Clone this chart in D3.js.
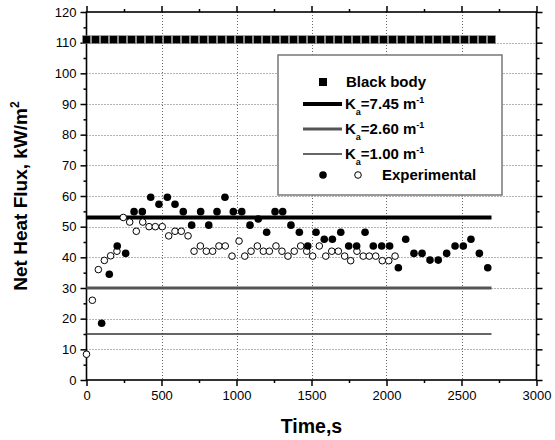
<!DOCTYPE html>
<html lang="en">

<head>
    <meta charset="UTF-8">
    <title>Net Heat Flux</title>
    <script src="https://unpkg.com/d3@7.8.5/dist/d3.min.js"></script>
    <style>
        body { margin: 0; background: #fff; }
        text { font-family: Arial, 'Liberation Sans', sans-serif; }
    </style>
</head>

<body>
    <svg width="555" height="440"></svg>
    <script>
        // black body - constant value
        var bbTimes = [0, 60, 120, 180, 240, 300, 360, 420, 480, 540, 600, 660, 720, 780, 840, 900, 960, 1020,
            1080, 1140, 1200, 1260, 1320, 1380, 1440, 1500, 1560, 1620, 1680, 1740, 1800, 1860, 1920, 1980, 2040,
            2100, 2160, 2220, 2280, 2340, 2400, 2460, 2520, 2580, 2640, 2700]
        var bbFlux = 111

        // model lines
        var kaLabels = ['7.45', '2.60', '1.00']
        var kaFlux = [53, 30, 15]
        var lineTimes = [0, 2700]

        // experimental (filled)
        var expTimesA = [101, 152, 205, 261, 317, 372, 428, 483, 539, 590, 645, 701, 761, 815, 870, 923, 979, 1035,
            1090, 1145, 1201, 1257, 1308, 1363, 1419, 1475, 1530, 1585, 1639, 1695, 1748, 1801, 1857, 1912, 1968,
            2021, 2079, 2128, 2183, 2237, 2290, 2345, 2401, 2457, 2512, 2563, 2619, 2675]
        var expFluxA = [18.5, 34.5, 43.7, 41.3, 54.9, 54.9, 59.6, 57.3, 59.6, 57.3, 54.9, 50.5, 54.9, 50.5, 54.9, 59.6,
            54.9, 54.9, 50.5, 52.5, 48.2, 54.9, 54.9, 50.5, 48.2, 43.7, 48.2, 45.9, 45.9, 48.2, 43.7, 43.7, 48.2, 43.7,
            43.7, 43.7, 36.6, 45.9, 41.3, 41.3, 39.1, 39.1, 41.3, 43.7, 43.7, 45.9, 41.3, 36.6]

        // experimental (open)
        var expTimesB = [0, 39, 79, 119, 161, 203, 245, 288, 332, 375, 417, 459, 505, 548, 590, 632, 677, 717, 759,
            799, 841, 883, 925, 970, 1017, 1055, 1097, 1139, 1179, 1219, 1263, 1303, 1343, 1385, 1428, 1468, 1508,
            1552, 1595, 1635, 1679, 1721, 1761, 1803, 1845, 1885, 1928, 1972, 2015, 2057]
        var expFluxB = [8.4, 26, 36, 39, 40.5, 42, 53, 51.5, 48.5, 51.5, 50, 50, 50, 47, 48.5, 48.5, 47, 42, 43.7, 42,
            42, 43.7, 43.7, 40.4, 45.3, 40.4, 42, 43.7, 42, 42, 43.7, 42, 40.4, 42, 43.7, 42, 40.4, 43.7, 40.4, 42,
            42, 40.4, 38.9, 42, 40.4, 40.4, 40.4, 38.9, 38.9, 40.4]

        var xTicks = [0, 500, 1000, 1500, 2000, 2500, 3000]
        var yTicks = [0, 10, 20, 30, 40, 50, 60, 70, 80, 90, 100, 110, 120]
        var xMinor = [250, 750, 1250, 1750, 2250, 2750]
        var yMinor = [5, 15, 25, 35, 45, 55, 65, 75, 85, 95, 105, 115]

        var mLeft = 86.5, mRight = 536.5, mTop = 12, mBottom = 380

        var svg = d3.select('svg')
        var x = d3.scaleLinear().domain([0, 3000]).range([mLeft, mRight])
        var y = d3.scaleLinear().domain([0, 120]).range([mBottom, mTop])

        // grid
        var grid = svg.append('g').attr('stroke', '#666').attr('stroke-width', 1).attr('stroke-dasharray', '1,2')
        grid.selectAll('.gx').data(xTicks.slice(1, -1)).enter().append('line')
            .attr('x1', d => Math.round(x(d)) + 0.5).attr('x2', d => Math.round(x(d)) + 0.5)
            .attr('y1', mTop).attr('y2', mBottom)
        grid.selectAll('.gy').data(yTicks.slice(1, -1)).enter().append('line')
            .attr('y1', d => Math.round(y(d)) + 0.5).attr('y2', d => Math.round(y(d)) + 0.5)
            .attr('x1', mLeft).attr('x2', mRight)

        // axes
        function styleAxis(g) {
            g.select('.domain').remove()
            g.selectAll('line').attr('stroke', '#000').attr('stroke-width', 1.5)
            g.selectAll('text').attr('font-size', 13).attr('fill', '#000')
        }
        svg.append('g').attr('transform', 'translate(0,' + mBottom + ')')
            .call(d3.axisBottom(x).tickValues(xTicks).tickSize(6).tickPadding(5).tickFormat(d3.format('d'))).call(styleAxis)
        svg.append('g').attr('transform', 'translate(0,' + mBottom + ')')
            .call(d3.axisBottom(x).tickValues(xMinor).tickSize(3).tickFormat('')).call(styleAxis)
        svg.append('g').attr('transform', 'translate(0,' + mTop + ')')
            .call(d3.axisTop(x).tickValues(xTicks).tickSize(6).tickFormat('')).call(styleAxis)
        svg.append('g').attr('transform', 'translate(0,' + mTop + ')')
            .call(d3.axisTop(x).tickValues(xMinor).tickSize(3).tickFormat('')).call(styleAxis)
        svg.append('g').attr('transform', 'translate(' + mLeft + ',0)')
            .call(d3.axisLeft(y).tickValues(yTicks).tickSize(6).tickPadding(4)).call(styleAxis)
        svg.append('g').attr('transform', 'translate(' + mLeft + ',0)')
            .call(d3.axisLeft(y).tickValues(yMinor).tickSize(3).tickFormat('')).call(styleAxis)
        svg.append('g').attr('transform', 'translate(' + mRight + ',0)')
            .call(d3.axisRight(y).tickValues(yTicks).tickSize(6).tickFormat('')).call(styleAxis)
        svg.append('g').attr('transform', 'translate(' + mRight + ',0)')
            .call(d3.axisRight(y).tickValues(yMinor).tickSize(3).tickFormat('')).call(styleAxis)

        // frame
        svg.append('rect').attr('x', mLeft).attr('y', mTop).attr('width', mRight - mLeft).attr('height', mBottom - mTop)
            .attr('fill', 'none').attr('stroke', '#000').attr('stroke-width', 1.6)

        // model lines
        var lineW = [4, 3, 1.5]
        var lineC = ['#000', '#555', '#333']
        var line = d3.line().x(d => x(d[0])).y(d => y(d[1]))
        kaFlux.forEach(function (v, i) {
            svg.append('path').attr('d', line(lineTimes.map(t => [t, v])))
                .attr('fill', 'none').attr('stroke', lineC[i]).attr('stroke-width', lineW[i])
        })

        // black body squares
        svg.selectAll('.bb').data(bbTimes).enter().append('rect')
            .attr('x', d => x(d) - 4).attr('y', y(bbFlux) - 4)
            .attr('width', 8).attr('height', 8).attr('fill', '#000')
            .attr('stroke', '#999').attr('stroke-width', 0.5)

        // experimental points
        svg.selectAll('.eb').data(expTimesB).enter().append('circle')
            .attr('cx', d => x(d)).attr('cy', (d, i) => y(expFluxB[i])).attr('r', 3.3)
            .attr('fill', '#fff').attr('stroke', '#000').attr('stroke-width', 1)
        svg.selectAll('.ea').data(expTimesA).enter().append('circle')
            .attr('cx', d => x(d)).attr('cy', (d, i) => y(expFluxA[i])).attr('r', 3.8)
            .attr('fill', '#000')

        // axis titles
        svg.append('text').attr('x', (mLeft + mRight) / 2).attr('y', 433).attr('text-anchor', 'middle')
            .attr('font-size', 19.5).attr('font-weight', 'bold').text('Time,s')
        var yt = svg.append('text').attr('transform', 'translate(27,' + (mTop + mBottom) / 2 + ') rotate(-90)')
            .attr('text-anchor', 'middle').attr('font-size', 19).attr('font-weight', 'bold')
        yt.append('tspan').text('Net Heat Flux, kW/m')
        yt.append('tspan').attr('dy', -8).attr('font-size', 12).text('2')

        // legend
        var lg = svg.append('g')
        lg.append('rect').attr('x', 278).attr('y', 55).attr('width', 224).attr('height', 140)
            .attr('fill', '#fff').attr('stroke', '#777').attr('stroke-width', 1.5)
        lg.append('rect').attr('x', 319).attr('y', 78).attr('width', 8).attr('height', 8).attr('fill', '#000')
        lg.append('text').attr('x', 346).attr('y', 87).attr('font-size', 15).attr('font-weight', 'bold')
            .text('Black body')
        kaLabels.forEach(function (k, i) {
            var ly = 104 + i * 25
            lg.append('line').attr('x1', 303).attr('x2', 342).attr('y1', ly).attr('y2', ly)
                .attr('stroke', lineC[i]).attr('stroke-width', lineW[i])
            var t = lg.append('text').attr('x', 345).attr('y', ly + 5).attr('font-size', 15).attr('font-weight', 'bold')
            t.append('tspan').text('K')
            t.append('tspan').attr('dy', 6).attr('font-size', 9).text('a')
            t.append('tspan').attr('dy', -6).text('=' + k + ' m')
            t.append('tspan').attr('dy', -6).attr('font-size', 9).text('-1')
        })
        lg.append('circle').attr('cx', 323).attr('cy', 175).attr('r', 3.8).attr('fill', '#000')
        lg.append('circle').attr('cx', 358).attr('cy', 175).attr('r', 3.3).attr('fill', '#fff')
            .attr('stroke', '#000').attr('stroke-width', 1)
        lg.append('text').attr('x', 382).attr('y', 180).attr('font-size', 15).attr('font-weight', 'bold')
            .text('Experimental')
    </script>
</body>

</html>
